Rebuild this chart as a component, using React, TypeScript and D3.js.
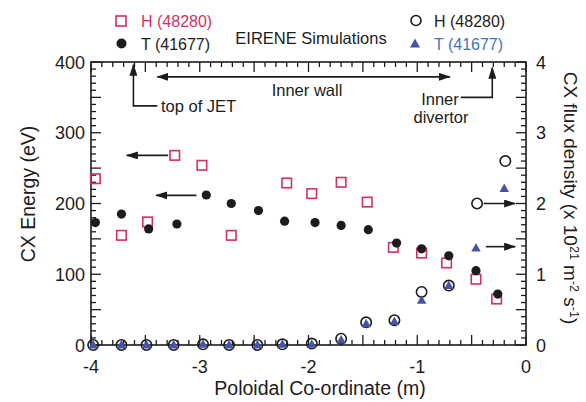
import React from "react";
import * as d3 from "d3";

// ---- data ----
const xEnergyH = [-3.96, -3.72, -3.48, -3.23, -2.98, -2.71, -2.2, -1.97, -1.7, -1.46, -1.22, -0.96, -0.73, -0.46, -0.27];
const energyH = [235, 155, 174, 268, 254, 155, 229, 214, 230, 202, 138, 130, 116, 93, 65];

const xEnergyT = [-3.96, -3.72, -3.47, -3.21, -2.94, -2.71, -2.46, -2.22, -1.94, -1.7, -1.45, -1.19, -0.96, -0.71, -0.46, -0.26];
const energyT = [173, 185, 164, 171, 212, 200, 190, 175, 173, 169, 163, 144, 136, 126, 105, 72];

const xFluxH = [-3.98, -3.72, -3.49, -3.24, -2.97, -2.73, -2.47, -2.24, -1.97, -1.7, -1.47, -1.21, -0.96, -0.71, -0.45, -0.19];
const fluxH = [0, 0, 0, 0, 0.01, 0, 0, 0.01, 0.02, 0.09, 0.32, 0.35, 0.75, 0.84, 2.0, 2.6];

const xFluxT = [-3.98, -3.72, -3.49, -3.24, -2.97, -2.73, -2.47, -2.24, -1.97, -1.7, -1.47, -1.21, -0.96, -0.71, -0.46, -0.2];
const fluxT = [0, 0, 0, 0, 0.01, 0, 0, 0.01, 0.01, 0.07, 0.3, 0.33, 0.63, 0.84, 1.37, 2.21];

const xTickLabels = [-4, -3, -2, -1, 0];
const energyTickLabels = [0, 100, 200, 300, 400];
const fluxTickLabels = [0, 1, 2, 3, 4];

const legendLeft = ["H (48280)", "T (41677)"];
const legendRight = ["H (48280)", "T (41677)"];

// ---- style ----
const RED = "#d2305f";
const BLUE = "#4654a6";
const BLUE_TEXT = "#3f74b8";
const INK = "#1c1c1c";
const FONT = "'Liberation Sans', Arial, Helvetica, sans-serif";

const W = 586;
const H = 402;
const L = 91, R = 526, T = 62, B = 345;

export default function App() {
  const x = d3.scaleLinear().domain([-4, 0]).range([L, R]);
  const yE = d3.scaleLinear().domain([0, 400]).range([B, T]);
  const yF = d3.scaleLinear().domain([0, 4]).range([B, T]);

  const xMinor = d3.range(-40, 1).map((d) => d / 10);
  const eMinor = d3.range(0, 41).map((d) => d * 10);
  const fMinor = d3.range(0, 41).map((d) => d / 10);

  const isMajorX = (v: number) => Math.abs(v * 2 - Math.round(v * 2)) < 1e-6;
  const isMajorE = (v: number) => v % 50 === 0;

  const triPath = (cx: number, cy: number, s: number) => {
    const h = s * 0.9;
    return `M${cx},${cy - h * 0.6} L${cx + s / 2},${cy + h * 0.4} L${cx - s / 2},${cy + h * 0.4} Z`;
  };

  const sq = 9.5;

  return (
    <svg
      width={W}
      height={H}
      viewBox={`0 0 ${W} ${H}`}
      style={{ position: "absolute", left: 0, top: 0, background: "#fff" }}
      fontFamily={FONT}
    >
      <defs>
        <marker id="ah" viewBox="0 0 12 8" refX="11" refY="4" markerWidth="12" markerHeight="8" markerUnits="userSpaceOnUse" orient="auto-start-reverse">
          <path d="M0,0 L12,4 L0,8 Z" fill={INK} />
        </marker>
      </defs>

      {/* frame */}
      <rect x={L} y={T} width={R - L} height={B - T} fill="none" stroke={INK} strokeWidth={1.6} />

      {/* x ticks bottom & top (inward) */}
      {xMinor.map((v, i) => {
        const len = isMajorX(v) ? 10 : 5;
        return (
          <g key={"xt" + i} stroke={INK} strokeWidth={1.3}>
            <line x1={x(v)} x2={x(v)} y1={B} y2={B - len} />
            <line x1={x(v)} x2={x(v)} y1={T} y2={T + len} />
          </g>
        );
      })}
      {/* left ticks */}
      {eMinor.map((v, i) => {
        const len = isMajorE(v) ? 10 : 5;
        return <line key={"et" + i} x1={L} x2={L + len} y1={yE(v)} y2={yE(v)} stroke={INK} strokeWidth={1.3} />;
      })}
      {/* right ticks */}
      {fMinor.map((v, i) => {
        const len = isMajorX(v) ? 10 : 5;
        return <line key={"ft" + i} x1={R} x2={R - len} y1={yF(v)} y2={yF(v)} stroke={INK} strokeWidth={1.3} />;
      })}

      {/* tick labels */}
      {xTickLabels.map((v) => (
        <text key={"xl" + v} x={x(v)} y={373} textAnchor="middle" fontSize={18} fill={INK}>
          {v === 0 ? "0" : "-" + Math.abs(v)}
        </text>
      ))}
      {energyTickLabels.map((v) => (
        <text key={"el" + v} x={85} y={yE(v) + 6.5} textAnchor="end" fontSize={18} fill={INK}>
          {v}
        </text>
      ))}
      {fluxTickLabels.map((v) => (
        <text key={"fl" + v} x={536} y={yF(v) + 6.5} textAnchor="start" fontSize={18} fill={INK}>
          {v}
        </text>
      ))}

      {/* axis titles */}
      <text x={320} y={395} textAnchor="middle" fontSize={19.5} fill={INK}>
        Poloidal Co-ordinate (m)
      </text>
      <text transform={`translate(35,194) rotate(-90)`} textAnchor="middle" fontSize={19.5} fill={INK}>
        CX Energy (eV)
      </text>
      <text transform={`translate(564,198) rotate(90)`} textAnchor="middle" fontSize={19} fill={INK}>
        CX flux density (x 10
        <tspan fontSize={12.5} dy={-6}>21</tspan>
        <tspan dy={6}> m</tspan>
        <tspan fontSize={12.5} dy={-6}>-2</tspan>
        <tspan dy={6}> s</tspan>
        <tspan fontSize={12.5} dy={-6}>-1</tspan>
        <tspan dy={6}>)</tspan>
      </text>

      {/* legends */}
      <rect x={121 - 5} y={21 - 5} width={10} height={10} fill="none" stroke={RED} strokeWidth={1.6} />
      <text x={141} y={27} fontSize={16} fill={RED}>{legendLeft[0]}</text>
      <circle cx={121.5} cy={43.5} r={5} fill={INK} />
      <text x={141} y={50} fontSize={16} fill={INK}>{legendLeft[1]}</text>

      <circle cx={416} cy={20.5} r={5} fill="none" stroke={INK} strokeWidth={1.6} />
      <text x={434} y={27} fontSize={16} fill={INK}>{legendRight[0]}</text>
      <path d={triPath(415, 44, 10)} fill={BLUE} />
      <text x={434} y={50} fontSize={16} fill={BLUE_TEXT}>{legendRight[1]}</text>

      <text x={311} y={44} textAnchor="middle" fontSize={16.5} fill={INK}>
        EIRENE Simulations
      </text>

      {/* annotations */}
      <line x1={x(-3.39)} x2={x(-0.7)} y1={yE(379)} y2={yE(379)} stroke={INK} strokeWidth={1.6} markerStart="url(#ah)" markerEnd="url(#ah)" />
      <text x={307} y={96} textAnchor="middle" fontSize={16.5} fill={INK}>Inner wall</text>

      <polyline
        points={`${x(-3.39)},${yE(338)} ${x(-3.61)},${yE(338)} ${x(-3.61)},${yE(396)}`}
        fill="none"
        stroke={INK}
        strokeWidth={1.6}
        markerEnd="url(#ah)"
      />
      <text x={161} y={112} fontSize={16.5} fill={INK}>top of JET</text>

      <polyline
        points={`${x(-0.6)},${yE(350)} ${x(-0.31)},${yE(350)} ${x(-0.31)},${yE(392)}`}
        fill="none"
        stroke={INK}
        strokeWidth={1.6}
        markerEnd="url(#ah)"
      />
      <text x={440} y={105} textAnchor="middle" fontSize={16.5} fill={INK}>Inner</text>
      <text x={441} y={123} textAnchor="middle" fontSize={16.5} fill={INK}>divertor</text>

      <line x1={x(-3.29)} x2={x(-3.67)} y1={yE(268)} y2={yE(268)} stroke={INK} strokeWidth={1.6} markerEnd="url(#ah)" />
      <line x1={x(-3.03)} x2={x(-3.4)} y1={yE(211.5)} y2={yE(211.5)} stroke={INK} strokeWidth={1.6} markerEnd="url(#ah)" />
      <line x1={x(-0.39)} x2={x(-0.1)} y1={yF(2.0)} y2={yF(2.0)} stroke={INK} strokeWidth={1.6} markerEnd="url(#ah)" />
      <line x1={x(-0.37)} x2={x(-0.1)} y1={yF(1.39)} y2={yF(1.39)} stroke={INK} strokeWidth={1.6} markerEnd="url(#ah)" />

      {/* flux series */}
      {xFluxH.map((v, i) => (
        <circle key={"fh" + i} cx={x(v)} cy={yF(fluxH[i])} r={5.2} fill="none" stroke={INK} strokeWidth={1.6} />
      ))}
      {xFluxT.map((v, i) => (
        <path key={"ftr" + i} d={triPath(x(v), yF(fluxT[i]), 9.5)} fill={BLUE} />
      ))}

      {/* energy series */}
      {xEnergyH.map((v, i) => (
        <rect key={"eh" + i} x={x(v) - sq / 2} y={yE(energyH[i]) - sq / 2} width={sq} height={sq} fill="none" stroke={RED} strokeWidth={1.6} />
      ))}
      {xEnergyT.map((v, i) => (
        <circle key={"et" + i} cx={x(v)} cy={yE(energyT[i])} r={4.6} fill={INK} />
      ))}
    </svg>
  );
}
